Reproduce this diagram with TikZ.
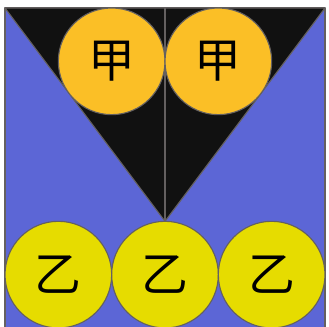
\documentclass[tikz,border=0pt]{standalone}
\usepackage{fontspec}
\newfontfamily\cjk{Noto Sans CJK SC}
\usepackage{xcolor}
\definecolor{bgblue}{RGB}{92,102,214}
\definecolor{wedge}{RGB}{17,17,17}
\definecolor{jiagold}{RGB}{251,191,38}
\definecolor{yiyellow}{RGB}{230,220,0}
\definecolor{edge}{RGB}{100,96,96}
\tikzset{
  every picture/.style={line join=round, line cap=round},
  disc/.style={circle, draw=edge, line width=0.6pt, minimum size=2cm, inner sep=0pt,
    font=\cjk\fontsize{25}{25}\selectfont},
  jia/.style={disc, fill=jiagold},
  yi/.style={disc, fill=yiyellow},
}

\begin{document}
\begin{tikzpicture}
\useasboundingbox(-0.094,0.019)rectangle(6.075,6.15);
% square and the black wedge
\draw[edge,line width=0.8pt,fill=bgblue](0,0)rectangle(6,6);
\coordinate(tl)at(0,6);
\coordinate(tm)at(3,6);
\coordinate(tr)at(6,6);
\coordinate(apex)at(3,2);
\draw[edge,line width=0.6pt,fill=wedge](tl)--(tr)--(apex)--cycle;
\draw[edge,line width=0.6pt](tm)--(apex);
% upper circles
\node[jia](a1)at(2,5){甲};
\node[jia](a2)at(4,5){甲};
% lower circles
\node[yi](b1)at(1,1){乙};
\node[yi](b2)at(3,1){乙};
\node[yi](b3)at(5,1){乙};
\end{tikzpicture}
\end{document}
